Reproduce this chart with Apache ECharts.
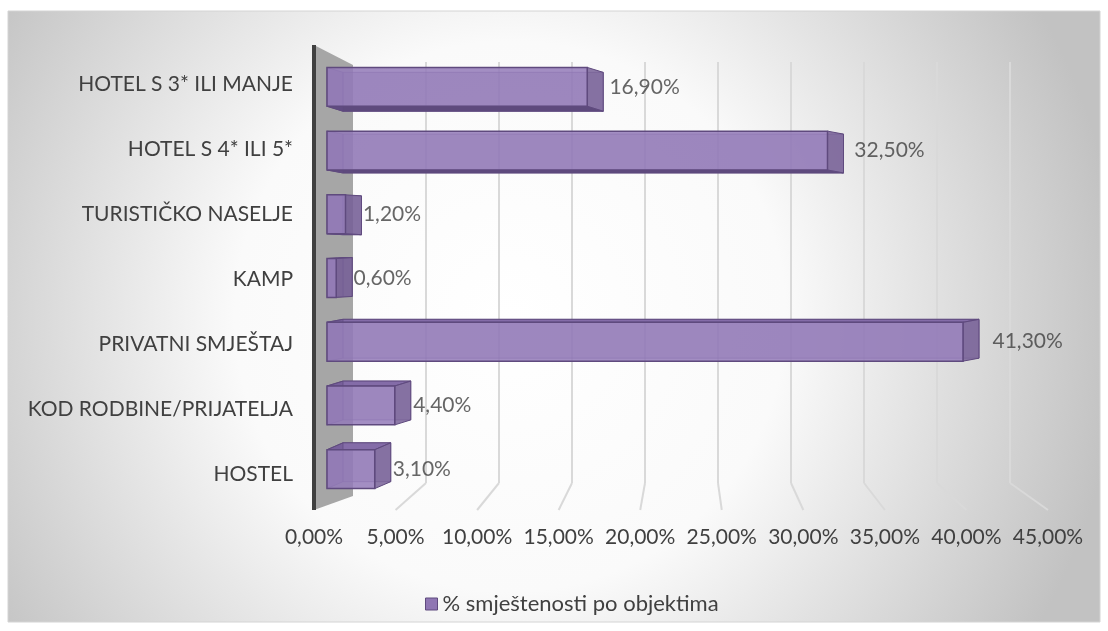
<!DOCTYPE html>
<html>
<head>
<meta charset="utf-8">
<script src="https://cdn.jsdelivr.net/npm/echarts@6/dist/echarts.min.js"></script>
<style>
html, body { margin: 0; padding: 0; background: #fff; }
#chart { width: 1108px; height: 631px; }
</style>
</head>
<body>
<div id="chart"></div>
<script>
var categories = ['HOTEL S 3* ILI MANJE', 'HOTEL S 4* ILI 5*', 'TURISTIČKO NASELJE', 'KAMP',
    'PRIVATNI SMJEŠTAJ', 'KOD RODBINE/PRIJATELJA', 'HOSTEL'];
var values = [16.9, 32.5, 1.2, 0.6, 41.3, 4.4, 3.1];
var axisMin = 0, axisMax = 45, axisStep = 5;
var seriesName = '% smještenosti po objektima';

var font = 'Lato';
var textColor = '#404040';

function pct(v) {
    return v.toFixed(2).replace('.', ',') + '%';
}

// draws one bar as a see-through box (front face + depth faces)
function renderBar(params, api) {
    var v = api.value(0), c = api.value(1);
    var p0 = api.coord([0, c]);
    var p1 = api.coord([v, c]);
    var h = api.size([0, 1])[1] * 0.61;
    var top = p0[1] - h / 2, bot = p0[1] + h / 2;
    var dx = 16, dy = -0.031 * (p0[1] - 246);
    var x0 = p0[0], x1 = p1[0];
    var F = [[x0, top], [x1, top], [x1, bot], [x0, bot]];
    var B = F.map(function (p) { return [p[0] + dx, p[1] + dy]; });
    var edge = '#5f4a7e';
    var kids = [];
    kids.push({ type: 'polygon', shape: { points: B },
        style: { fill: 'rgba(110,86,145,0.3)', stroke: 'rgba(95,74,126,0.6)', lineWidth: 1 } });
    if (dy > 0) {
        kids.push({ type: 'polygon', shape: { points: [F[3], F[2], B[2], B[3]] },
            style: { fill: '#5e4a7d', stroke: edge, lineWidth: 1 } });
    } else {
        kids.push({ type: 'polygon', shape: { points: [F[0], F[1], B[1], B[0]] },
            style: { fill: '#846ca8', stroke: edge, lineWidth: 1 } });
    }
    kids.push({ type: 'polygon', shape: { points: [F[0], B[0], B[3], F[3]] },
        style: { fill: 'rgba(100,78,135,0.4)', stroke: 'rgba(95,74,126,0.7)', lineWidth: 1 } });
    kids.push({ type: 'polygon', shape: { points: [F[1], B[1], B[2], F[2]] },
        style: { fill: 'rgba(120,98,152,0.85)', stroke: edge, lineWidth: 1 } });
    kids.push({ type: 'polygon', shape: { points: F },
        style: { fill: 'rgba(148,124,185,0.86)', stroke: edge, lineWidth: 1.5 } });
    return { type: 'group', children: kids };
}

var chart = echarts.init(document.getElementById('chart'));

var hiddenAxis = { show: false, min: axisMin, max: axisMax, interval: axisStep };

var option = {
    animation: false,
    backgroundColor: '#ffffff',
    textStyle: { fontFamily: font },
    legend: {
        data: [{ name: seriesName, icon: 'rect' }],
        left: 420, top: 588,
        itemWidth: 12, itemHeight: 12,
        itemStyle: { borderColor: '#5f4a7e', borderWidth: 1 },
        textStyle: { fontFamily: font, fontSize: 22, color: textColor }
    },
    grid: [
        { left: 353, top: 62, width: 657, height: 421, outerBoundsMode: 'none' },   // back wall
        { left: 314, top: 52, width: 734, height: 455, outerBoundsMode: 'none' },   // front plane
        { left: 327, top: 55, width: 693, height: 446, outerBoundsMode: 'none' },   // bars
        { left: 343.6, top: 55, width: 706.5, height: 446, outerBoundsMode: 'none' } // value labels
    ],
    xAxis: [
        {
            gridIndex: 0, type: 'value', min: axisMin, max: axisMax, interval: axisStep,
            axisLine: { show: false }, axisTick: { show: false }, axisLabel: { show: false },
            splitLine: { show: true, showMinLine: false, lineStyle: { color: '#d9d9d9', width: 2 } }
        },
        {
            gridIndex: 1, type: 'value', min: axisMin, max: axisMax, interval: axisStep,
            axisLine: { show: false }, axisTick: { show: false }, splitLine: { show: false },
            axisLabel: { formatter: pct, fontSize: 21, color: textColor, fontFamily: font, margin: 20 }
        },
        Object.assign({ gridIndex: 2, type: 'value' }, hiddenAxis),
        Object.assign({ gridIndex: 3, type: 'value' }, hiddenAxis)
    ],
    yAxis: [
        { gridIndex: 0, type: 'category', inverse: true, data: categories, show: false },
        {
            gridIndex: 1, type: 'category', inverse: true, data: categories,
            axisLine: { show: false }, axisTick: { show: false },
            axisLabel: { fontSize: 21, color: textColor, fontFamily: font, margin: 21 }
        },
        { gridIndex: 2, type: 'category', inverse: true, data: categories, show: false },
        { gridIndex: 3, type: 'category', inverse: true, data: categories, show: false }
    ],
    series: [
        {
            name: seriesName,
            type: 'custom',
            xAxisIndex: 2, yAxisIndex: 2,
            renderItem: renderBar,
            itemStyle: { color: '#8f76b3' },
            encode: { x: 0, y: 1 },
            clip: false,
            z: 3,
            data: values.map(function (v, i) { return [v, i]; })
        },
        {
            name: 'labels',
            type: 'scatter',
            xAxisIndex: 3, yAxisIndex: 3,
            symbolSize: 1,
            itemStyle: { color: 'rgba(0,0,0,0)' },
            silent: true,
            z: 4,
            label: {
                show: true, position: 'right', distance: 0,
                fontSize: 21, color: textColor, fontFamily: font,
                formatter: function (p) { return pct(p.value[0]); }
            },
            data: values.map(function (v, i) { return [v, i]; })
        }
    ]
};

chart.setOption(option);

// decoration: chart area background, side wall and floor lines, placed from the axes
var frontX0 = chart.convertToPixel({ xAxisIndex: 1 }, axisMin);
var backX0 = chart.convertToPixel({ xAxisIndex: 0 }, axisMin);
var els = [
    {
        type: 'rect', z: -100, silent: true,
        shape: { x: 8, y: 11, width: 1092, height: 611 },
        style: {
            fill: {
                type: 'radial', x: 0.46, y: 0.5, r: 1,
                colorStops: [
                    { offset: 0, color: '#ffffff' },
                    { offset: 0.45, color: '#fafafa' },
                    { offset: 1, color: '#c2c2c2' }
                ]
            },
            stroke: '#d4d4d4', lineWidth: 1
        }
    },
    {
        type: 'polygon', z: 1, silent: true,
        shape: { points: [[frontX0, 45], [backX0, 65], [backX0, 496], [frontX0, 510]] },
        style: { fill: '#a6a6a6' }
    },
    {
        type: 'line', z: 1, silent: true,
        shape: { x1: frontX0, y1: 45, x2: frontX0, y2: 510 },
        style: { stroke: '#404040', lineWidth: 4 }
    }
];
for (var t = axisMin + axisStep; t <= axisMax; t += axisStep) {
    els.push({
        type: 'line', z: 0, silent: true,
        shape: {
            x1: chart.convertToPixel({ xAxisIndex: 0 }, t), y1: 483,
            x2: chart.convertToPixel({ xAxisIndex: 1 }, t), y2: 510
        },
        style: { stroke: '#d9d9d9', lineWidth: 2 }
    });
}
chart.setOption({ graphic: { elements: els } });
</script>
</body>
</html>
